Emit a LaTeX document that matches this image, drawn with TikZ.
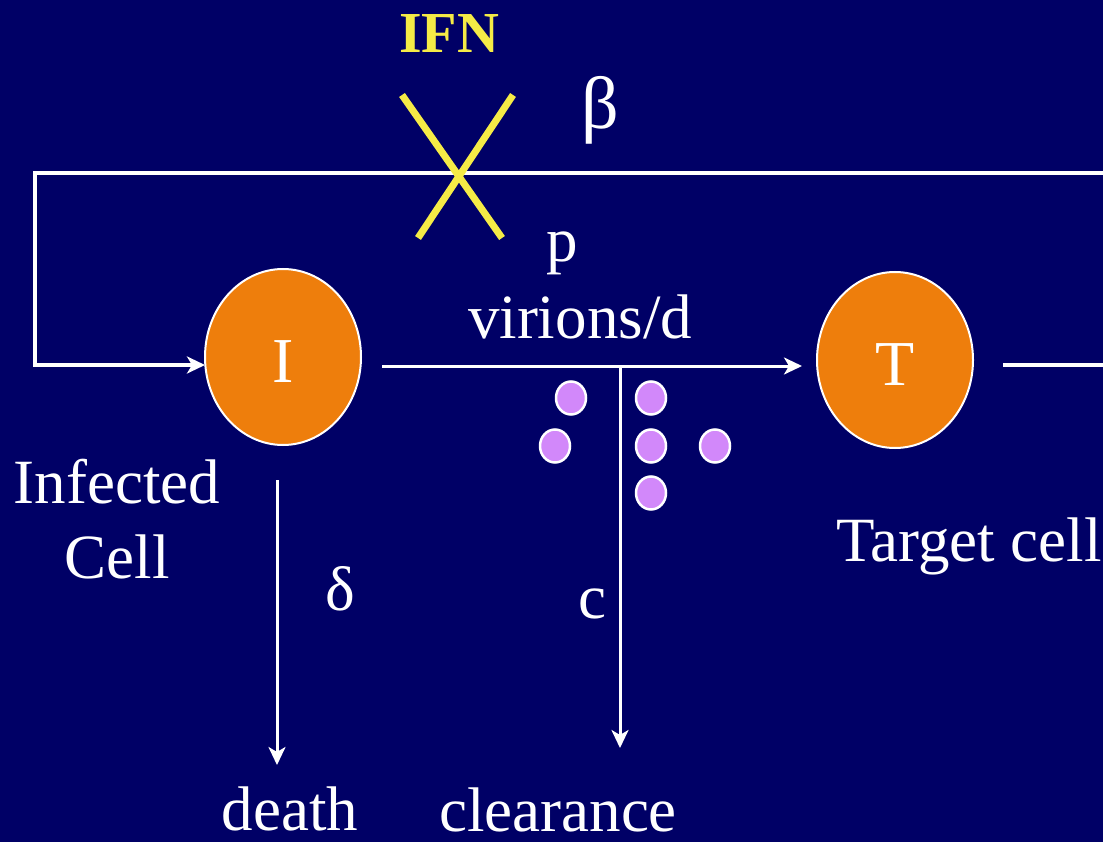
\documentclass[tikz,border=0pt]{standalone}
\usepackage{fontspec}
\setmainfont{Liberation Serif}
\usetikzlibrary{arrows.meta,shapes.geometric}
\definecolor{navy}{RGB}{0,0,102}
\definecolor{cellorange}{RGB}{238,126,12}
\definecolor{virionpink}{RGB}{210,136,250}
\definecolor{ifnyellow}{RGB}{245,235,70}

\begin{document}
\begin{tikzpicture}[x=1pt,y=-1pt,
  cell/.style={ellipse,fill=cellorange,draw=white,line width=2pt,
    minimum width=156pt,minimum height=176pt,inner sep=0pt,outer sep=0pt,
    text depth=0pt,text=white,font=\fontsize{64}{64}\selectfont},
  lbl/.style={text=white,anchor=base,inner sep=0pt,font=\fontsize{63}{75}\selectfont},
  flow/.style={draw=white,line width=3pt},
  loopline/.style={draw=white,line width=4pt},
  tip/.style={-{Stealth[length=18pt,width=17pt,inset=5pt]}},
  virion/.style={ellipse,fill=virionpink,draw=white,line width=2.5pt,
    minimum width=30pt,minimum height=33pt,inner sep=0pt},
  block/.style={draw=ifnyellow,line width=7pt}]

% background and page size
\fill[navy] (0,0) rectangle (1103,842);
\useasboundingbox (0,0) rectangle (1103,842);

% cells
\node[cell] (I) at (283,357) {\raisebox{-10pt}{I}};
\node[cell] (T) at (895,360) {\raisebox{-10pt}{T}};

% infection feedback loop
\coordinate (rt) at (1103,173);
\coordinate (lt) at (35,173);
\coordinate (lb) at (35,365);
\draw[loopline,tip] (rt) -- (lt) -- (lb) -- (I.west |- lb);

% outgoing stub from the target cell
\coordinate (ts) at (1003,365);
\coordinate (ro) at (1103,365);
\draw[loopline] (ts) -- (ro);

% virion production
\coordinate (is) at (382,366);
\draw[flow,tip,shorten >=15pt] (is) -- (T.west |- is);

% clearance branch
\coordinate (br) at (620,366);
\coordinate (clr) at (620,748);
\draw[flow,tip] (br) -- (clr);

% death of infected cells
\coordinate (d0) at (277,480);
\coordinate (d1) at (277,765);
\draw[flow,tip] (d0) -- (d1);

% interferon block
\coordinate (x1) at (402,95);
\coordinate (x2) at (502,238);
\coordinate (x3) at (513,95);
\coordinate (x4) at (418,238);
\draw[block] (x1) -- (x2);
\draw[block] (x3) -- (x4);
\node[lbl,text=ifnyellow,font=\bfseries\fontsize{58}{58}\selectfont] (ifn) at (449,53) {IFN};

% virions
\node[virion] (v1) at (571,398) {};
\node[virion] (v2) at (555,446) {};
\node[virion] (v3) at (651,398) {};
\node[virion] (v4) at (651,446) {};
\node[virion] (v5) at (651,493) {};
\node[virion] (v6) at (715,446) {};

% labels
\node[lbl] (inf) at (117,503) {Infected};
\node[lbl] (cll) at (117,578) {Cell};
\node[lbl] (tgt) at (969,561) {Target cell};
\node[lbl,font=\fontsize{74}{74}\selectfont] (beta) at (600,129) {β};
\node[lbl] (prate) at (562,262) {p};
\node[lbl] (vir) at (580,338) {virions/d};
\node[lbl] (delta) at (340,610) {δ};
\node[lbl] (crate) at (592,618) {c};
\node[lbl] (death) at (290,830) {death};
\node[lbl] (clear) at (558,831) {clearance};
\end{tikzpicture}
\end{document}
